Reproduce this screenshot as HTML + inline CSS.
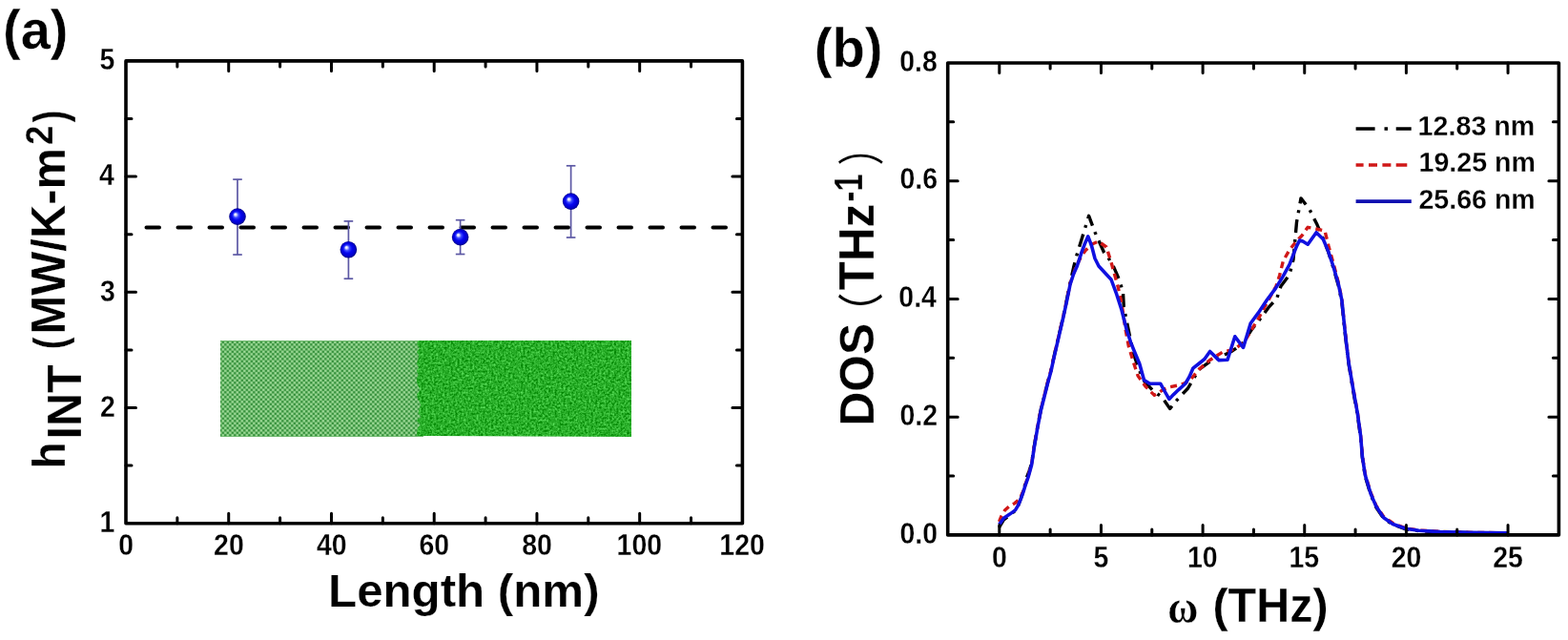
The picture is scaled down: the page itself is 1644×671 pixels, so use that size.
<!DOCTYPE html>
<html><head><meta charset="utf-8"><title>Figure</title>
<style>html,body{margin:0;padding:0;background:#fff;}body{width:1644px;height:671px;overflow:hidden;}svg{display:block;filter:blur(0.45px);}</style>
</head><body>
<svg width="1644" height="671" viewBox="0 0 1644 671">
<defs>
<radialGradient id="ball" cx="0.5" cy="0.5" r="0.5" fx="0.36" fy="0.36">
<stop offset="0" stop-color="#ffffff"/>
<stop offset="0.12" stop-color="#dde0ff"/>
<stop offset="0.32" stop-color="#3a48ff"/>
<stop offset="0.55" stop-color="#0606f0"/>
<stop offset="0.85" stop-color="#0000c8"/>
<stop offset="1" stop-color="#00007a"/>
</radialGradient>
<pattern id="cry" x="0" y="0" width="5" height="5" patternUnits="userSpaceOnUse">
<rect width="5" height="5" fill="#6cb86a"/>
<rect x="0.3" y="0.3" width="2" height="2" fill="#2f8a37"/>
<rect x="2.8" y="2.8" width="2" height="2" fill="#2f8a37"/>
<rect x="2.8" y="0.3" width="2" height="2" fill="#a4de9e"/>
<rect x="0.3" y="2.8" width="2" height="2" fill="#a4de9e"/>
</pattern>
<filter id="amo" x="0" y="0" width="1" height="1" color-interpolation-filters="sRGB">
<feTurbulence type="fractalNoise" baseFrequency="0.45" numOctaves="2" seed="4" result="n"/>
<feColorMatrix in="n" type="matrix" values="0.6 0 0 0 -0.14  0.6 0 0 0 0.38  0.6 0 0 0 -0.14  0 0 0 0 1"/>
<feComposite in2="SourceGraphic" operator="in"/>
</filter>
<filter id="cryn" x="0" y="0" width="1" height="1" color-interpolation-filters="sRGB">
<feTurbulence type="fractalNoise" baseFrequency="0.5" numOctaves="1" seed="9" result="n"/>
<feColorMatrix in="n" type="matrix" values="0 0 0 0 0.4  0 0 0 0 0.72  0 0 0 0 0.4  0.6 0 0 0 -0.15"/>
<feComposite in2="SourceGraphic" operator="in" result="m"/>
<feMerge><feMergeNode in="SourceGraphic"/><feMergeNode in="m"/></feMerge>
</filter>
</defs>
<rect width="1644" height="671" fill="#fff"/>
<rect x="231" y="357" width="213" height="101" fill="url(#cry)" filter="url(#cryn)"/>
<polygon points="662,357 438.1,357 437.3,361 439.8,365 436.9,369 439.2,373 438.3,377 436.8,381 439.0,385 436.7,389 438.7,393 436.8,397 437.0,401 438.6,405 440.6,409 437.1,413 437.6,417 439.6,421 441.2,425 439.4,429 438.5,433 441.4,437 436.7,441 440.8,445 437.9,449 437.2,453 437.1,457 662,458" fill="#2aa52a" filter="url(#amo)"/>
<line x1="153.5" y1="238.6" x2="766" y2="238.6" stroke="#000" stroke-width="4" stroke-dasharray="13.5 19.5" stroke-linecap="round"/>
<g stroke="#5c58a4" stroke-width="1.7" fill="none"><line x1="249.0" y1="188.1" x2="249.0" y2="267.0"/><line x1="244.2" y1="188.1" x2="253.8" y2="188.1"/><line x1="244.2" y1="267.0" x2="253.8" y2="267.0"/></g>
<circle cx="249.0" cy="227.1" r="8.8" fill="url(#ball)"/>
<g stroke="#5c58a4" stroke-width="1.7" fill="none"><line x1="365.4" y1="231.9" x2="365.4" y2="292.2"/><line x1="360.59999999999997" y1="231.9" x2="370.2" y2="231.9"/><line x1="360.59999999999997" y1="292.2" x2="370.2" y2="292.2"/></g>
<circle cx="365.4" cy="261.7" r="8.8" fill="url(#ball)"/>
<g stroke="#5c58a4" stroke-width="1.7" fill="none"><line x1="482.6" y1="230.7" x2="482.6" y2="266.5"/><line x1="477.8" y1="230.7" x2="487.40000000000003" y2="230.7"/><line x1="477.8" y1="266.5" x2="487.40000000000003" y2="266.5"/></g>
<circle cx="482.6" cy="248.6" r="8.8" fill="url(#ball)"/>
<g stroke="#5c58a4" stroke-width="1.7" fill="none"><line x1="598.6" y1="173.8" x2="598.6" y2="249.0"/><line x1="593.8000000000001" y1="173.8" x2="603.4" y2="173.8"/><line x1="593.8000000000001" y1="249.0" x2="603.4" y2="249.0"/></g>
<circle cx="598.6" cy="211.1" r="8.8" fill="url(#ball)"/>
<rect x="132.0" y="63.9" width="646.4" height="484.80000000000007" fill="none" stroke="#000" stroke-width="3.6" stroke-linejoin="round"/>
<path d="M185.87,548.7v-6.0M185.87,63.9v6.0M239.73,548.7v-10.5M239.73,63.9v10.5M293.60,548.7v-6.0M293.60,63.9v6.0M347.47,548.7v-10.5M347.47,63.9v10.5M401.33,548.7v-6.0M401.33,63.9v6.0M455.20,548.7v-10.5M455.20,63.9v10.5M509.07,548.7v-6.0M509.07,63.9v6.0M562.93,548.7v-10.5M562.93,63.9v10.5M616.80,548.7v-6.0M616.80,63.9v6.0M670.67,548.7v-10.5M670.67,63.9v10.5M724.53,548.7v-6.0M724.53,63.9v6.0M132.0,488.10h6.0M778.4,488.10h-6.0M132.0,427.50h10.5M778.4,427.50h-10.5M132.0,366.90h6.0M778.4,366.90h-6.0M132.0,306.30h10.5M778.4,306.30h-10.5M132.0,245.70h6.0M778.4,245.70h-6.0M132.0,185.10h10.5M778.4,185.10h-10.5M132.0,124.50h6.0M778.4,124.50h-6.0" stroke="#000" stroke-width="3.0" fill="none" stroke-linecap="round"/>
<path d="M1047.6,553.0 L1052.4,545.0 L1058.7,540.0 L1064.5,535.5 L1067.6,530.0 L1070.2,523.0 L1073.3,514.0 L1076.5,500.4 L1079.0,494.0 L1081.6,486.0 L1084.3,468.0 L1087.9,447.0 L1091.4,429.0 L1095.0,415.0 L1098.6,400.5 L1102.0,388.0 L1105.1,373.6 L1110.5,350.4 L1115.0,330.8 L1118.5,314.0 L1122.1,296.0 L1125.7,280.0 L1129.0,267.4 L1141.6,226.3 L1148.1,243.6 L1157.7,265.0 L1161.9,270.0 L1167.9,280.4 L1173.8,293.8 L1177.5,307.2 L1178.3,322.0 L1183.0,345.0 L1188.2,370.0 L1194.0,387.0 L1200.0,400.0 L1209.5,410.3 L1218.0,416.0 L1226.7,428.4 L1234.1,419.3 L1245.6,407.0 L1257.0,387.4 L1268.5,379.2 L1280.0,374.0 L1292.0,368.0 L1303.0,360.0 L1312.0,346.0 L1320.0,336.0 L1329.8,322.7 L1338.7,313.0 L1343.0,300.0 L1352.0,288.0 L1356.0,272.0 L1359.5,233.0 L1364.0,207.9 L1373.0,219.5 L1381.0,235.6 L1388.0,252.0 L1393.0,265.0 L1398.0,281.0 L1403.2,299.0 L1406.8,316.0 L1410.2,349.0 L1413.8,380.0 L1418.6,409.0 L1423.3,435.0 L1426.6,459.0 L1428.4,480.0 L1431.3,499.5 L1437.1,518.5 L1442.9,532.0 L1450.7,543.5 L1460.4,550.0 L1474.0,554.8 L1487.5,556.6 L1510.0,557.8 L1540.0,558.5 L1581.0,559.0" fill="none" stroke="#000" stroke-width="3.4" stroke-dasharray="14 7 3 7" stroke-linejoin="round"/>
<path d="M1047.6,547.0 L1050.0,541.0 L1053.5,535.0 L1058.0,531.0 L1063.9,527.6 L1068.0,524.0 L1070.2,521.0 L1072.8,515.0 L1075.4,507.0 L1078.0,499.5 L1081.6,486.5 L1084.3,468.3 L1087.9,447.0 L1091.4,429.0 L1095.0,414.7 L1098.6,400.4 L1102.0,388.0 L1105.1,373.6 L1110.5,350.4 L1115.0,330.8 L1118.5,314.7 L1122.1,297.0 L1128.0,280.0 L1134.0,268.0 L1138.6,262.0 L1145.0,256.0 L1151.7,253.1 L1160.0,259.0 L1164.9,274.5 L1168.6,287.9 L1172.0,300.0 L1176.0,318.0 L1180.0,345.0 L1183.3,362.8 L1188.2,379.2 L1193.1,394.0 L1201.3,405.4 L1210.3,414.4 L1219.3,408.7 L1226.7,405.7 L1235.0,404.0 L1242.0,402.0 L1248.9,397.2 L1257.0,387.4 L1268.5,377.5 L1281.6,369.3 L1294.8,366.0 L1305.0,358.0 L1312.0,346.0 L1320.0,333.0 L1328.0,318.0 L1338.0,300.0 L1341.7,288.4 L1345.4,273.5 L1352.0,262.0 L1360.0,252.0 L1365.0,247.0 L1371.2,238.3 L1380.0,240.0 L1389.0,241.9 L1393.0,258.0 L1398.0,276.0 L1403.2,296.0 L1406.8,313.0 L1410.2,346.6 L1413.8,377.6 L1418.6,406.1 L1423.3,432.3 L1426.6,456.1 L1428.4,477.8 L1431.3,497.1 L1437.1,516.5 L1442.9,530.1 L1450.7,541.7 L1460.4,548.5 L1474.0,553.8 L1487.5,556.0 L1510.0,557.4 L1540.0,558.3 L1581.0,558.8" fill="none" stroke="#d01818" stroke-width="3.4" stroke-dasharray="7 5" stroke-linejoin="round"/>
<path d="M1047.6,550.0 L1052.4,543.3 L1058.7,539.1 L1064.5,534.9 L1067.6,529.7 L1070.2,523.4 L1072.8,516.1 L1075.4,507.8 L1078.0,500.4 L1081.6,487.5 L1084.3,469.3 L1087.9,448.0 L1091.4,430.0 L1095.0,415.7 L1098.6,401.4 L1102.0,389.0 L1105.1,374.6 L1110.5,351.4 L1115.0,331.8 L1118.5,315.7 L1122.1,298.0 L1125.7,287.0 L1129.3,279.0 L1133.8,265.1 L1137.4,255.5 L1140.8,247.8 L1144.6,258.0 L1148.0,271.0 L1152.0,279.0 L1158.0,285.5 L1165.0,293.0 L1170.8,308.7 L1176.0,325.0 L1181.3,346.0 L1185.7,359.3 L1190.0,370.0 L1194.8,381.5 L1199.5,398.5 L1205.5,402.3 L1216.8,402.3 L1221.0,410.0 L1225.8,418.4 L1230.5,413.6 L1235.5,408.8 L1243.0,402.0 L1247.2,394.6 L1250.8,386.2 L1256.7,381.5 L1262.7,376.7 L1268.6,368.5 L1278.0,377.6 L1287.0,377.3 L1294.8,352.8 L1303.5,364.4 L1311.2,339.0 L1319.4,327.9 L1328.3,314.5 L1337.2,302.6 L1344.7,290.6 L1352.1,277.2 L1356.6,265.3 L1359.6,257.9 L1362.6,252.0 L1366.0,253.0 L1371.2,256.2 L1380.1,243.7 L1387.3,250.8 L1392.6,263.4 L1398.0,279.5 L1403.2,297.4 L1406.8,314.3 L1410.2,347.6 L1413.8,378.6 L1418.6,407.1 L1423.3,433.3 L1426.6,457.1 L1428.4,478.8 L1431.3,498.1 L1437.1,517.5 L1442.9,531.1 L1450.7,542.7 L1460.4,549.5 L1474.0,554.3 L1487.5,556.3 L1510.0,557.6 L1540.0,558.4 L1581.0,558.9" fill="none" stroke="#1010e0" stroke-width="3.6" stroke-linejoin="round"/>
<rect x="993.7" y="66.0" width="640.7" height="494.9" fill="none" stroke="#000" stroke-width="3.6" stroke-linejoin="round"/>
<path d="M1047.80,560.9v-10.5M1047.80,66.0v10.5M1101.12,560.9v-6.0M1101.12,66.0v6.0M1154.45,560.9v-10.5M1154.45,66.0v10.5M1207.77,560.9v-6.0M1207.77,66.0v6.0M1261.10,560.9v-10.5M1261.10,66.0v10.5M1314.42,560.9v-6.0M1314.42,66.0v6.0M1367.75,560.9v-10.5M1367.75,66.0v10.5M1421.07,560.9v-6.0M1421.07,66.0v6.0M1474.40,560.9v-10.5M1474.40,66.0v10.5M1527.72,560.9v-6.0M1527.72,66.0v6.0M1581.05,560.9v-10.5M1581.05,66.0v10.5M993.7,499.04h6.0M1634.4,499.04h-6.0M993.7,437.17h10.5M1634.4,437.17h-10.5M993.7,375.31h6.0M1634.4,375.31h-6.0M993.7,313.45h10.5M1634.4,313.45h-10.5M993.7,251.59h6.0M1634.4,251.59h-6.0M993.7,189.72h10.5M1634.4,189.72h-10.5M993.7,127.86h6.0M1634.4,127.86h-6.0" stroke="#000" stroke-width="3.0" fill="none" stroke-linecap="round"/>
<path d="M1421.6,135h20M1451.5,135h3.5M1463.7,135h16" stroke="#000" stroke-width="3.4"/>
<path d="M1421.6,173h8M1435,173h9M1449.4,173h9M1463.7,173h11.6" stroke="#d01818" stroke-width="3.4"/>
<path d="M1421.6,211.1h58.2" stroke="#1010b0" stroke-width="3.8"/>
<g fill="#000">
<text transform="translate(124.17,581.79) scale(0.9317,1)" font-family="'Liberation Sans', Arial, sans-serif" font-weight="bold" font-size="30.55" stroke="#fff" stroke-width="0.25">0</text>
<text transform="translate(224.08,581.79) scale(0.9317,1)" font-family="'Liberation Sans', Arial, sans-serif" font-weight="bold" font-size="30.55" stroke="#fff" stroke-width="0.25">20</text>
<text transform="translate(331.96,581.79) scale(0.9317,1)" font-family="'Liberation Sans', Arial, sans-serif" font-weight="bold" font-size="30.55" stroke="#fff" stroke-width="0.25">40</text>
<text transform="translate(439.40,581.79) scale(0.9317,1)" font-family="'Liberation Sans', Arial, sans-serif" font-weight="bold" font-size="30.55" stroke="#fff" stroke-width="0.25">60</text>
<text transform="translate(547.28,581.79) scale(0.9317,1)" font-family="'Liberation Sans', Arial, sans-serif" font-weight="bold" font-size="30.55" stroke="#fff" stroke-width="0.25">80</text>
<text transform="translate(646.62,581.79) scale(0.9317,1)" font-family="'Liberation Sans', Arial, sans-serif" font-weight="bold" font-size="30.55" stroke="#fff" stroke-width="0.25">100</text>
<text transform="translate(754.35,581.79) scale(0.9317,1)" font-family="'Liberation Sans', Arial, sans-serif" font-weight="bold" font-size="30.55" stroke="#fff" stroke-width="0.25">120</text>
<text transform="translate(104.62,557.94) scale(0.9317,1)" font-family="'Liberation Sans', Arial, sans-serif" font-weight="bold" font-size="30.55" stroke="#fff" stroke-width="0.25">1</text>
<text transform="translate(104.90,436.89) scale(0.9317,1)" font-family="'Liberation Sans', Arial, sans-serif" font-weight="bold" font-size="30.55" stroke="#fff" stroke-width="0.25">2</text>
<text transform="translate(104.90,315.54) scale(0.9317,1)" font-family="'Liberation Sans', Arial, sans-serif" font-weight="bold" font-size="30.55" stroke="#fff" stroke-width="0.25">3</text>
<text transform="translate(104.05,194.34) scale(0.9317,1)" font-family="'Liberation Sans', Arial, sans-serif" font-weight="bold" font-size="30.55" stroke="#fff" stroke-width="0.25">4</text>
<text transform="translate(104.62,72.99) scale(0.9317,1)" font-family="'Liberation Sans', Arial, sans-serif" font-weight="bold" font-size="30.55" stroke="#fff" stroke-width="0.25">5</text>
<text transform="translate(1039.97,594.79) scale(0.9317,1)" font-family="'Liberation Sans', Arial, sans-serif" font-weight="bold" font-size="30.55" stroke="#fff" stroke-width="0.25">0</text>
<text transform="translate(1146.48,594.79) scale(0.9317,1)" font-family="'Liberation Sans', Arial, sans-serif" font-weight="bold" font-size="30.55" stroke="#fff" stroke-width="0.25">5</text>
<text transform="translate(1245.02,594.79) scale(0.9317,1)" font-family="'Liberation Sans', Arial, sans-serif" font-weight="bold" font-size="30.55" stroke="#fff" stroke-width="0.25">10</text>
<text transform="translate(1351.53,594.79) scale(0.9317,1)" font-family="'Liberation Sans', Arial, sans-serif" font-weight="bold" font-size="30.55" stroke="#fff" stroke-width="0.25">15</text>
<text transform="translate(1458.75,594.79) scale(0.9317,1)" font-family="'Liberation Sans', Arial, sans-serif" font-weight="bold" font-size="30.55" stroke="#fff" stroke-width="0.25">20</text>
<text transform="translate(1565.25,594.79) scale(0.9317,1)" font-family="'Liberation Sans', Arial, sans-serif" font-weight="bold" font-size="30.55" stroke="#fff" stroke-width="0.25">25</text>
<text transform="translate(943.48,569.64) scale(0.9317,1)" font-family="'Liberation Sans', Arial, sans-serif" font-weight="bold" font-size="30.55" stroke="#fff" stroke-width="0.25">0.0</text>
<text transform="translate(943.48,445.91) scale(0.9317,1)" font-family="'Liberation Sans', Arial, sans-serif" font-weight="bold" font-size="30.55" stroke="#fff" stroke-width="0.25">0.2</text>
<text transform="translate(942.34,322.19) scale(0.9317,1)" font-family="'Liberation Sans', Arial, sans-serif" font-weight="bold" font-size="30.55" stroke="#fff" stroke-width="0.25">0.4</text>
<text transform="translate(943.48,198.46) scale(0.9317,1)" font-family="'Liberation Sans', Arial, sans-serif" font-weight="bold" font-size="30.55" stroke="#fff" stroke-width="0.25">0.6</text>
<text transform="translate(943.19,74.74) scale(0.9317,1)" font-family="'Liberation Sans', Arial, sans-serif" font-weight="bold" font-size="30.55" stroke="#fff" stroke-width="0.25">0.8</text>
<text transform="translate(1486.58,142.41) scale(0.9892,1)" font-family="'Liberation Sans', Arial, sans-serif" font-weight="bold" font-size="29.01" stroke="#fff" stroke-width="0.25">12.83 nm</text>
<text transform="translate(1487.48,180.11) scale(0.9868,1)" font-family="'Liberation Sans', Arial, sans-serif" font-weight="bold" font-size="29.01" stroke="#fff" stroke-width="0.25">19.25 nm</text>
<text transform="translate(1487.44,218.60) scale(0.9486,1)" font-family="'Liberation Sans', Arial, sans-serif" font-weight="bold" font-size="30.14" stroke="#fff" stroke-width="0.25">25.66 nm</text>
<text transform="translate(3.10,51.39) scale(0.9873,1)" font-family="'Liberation Sans', Arial, sans-serif" font-weight="bold" font-size="56.70" stroke="#fff" stroke-width="0.4">(a)</text>
<text transform="translate(853.79,70.19) scale(0.9909,1)" font-family="'Liberation Sans', Arial, sans-serif" font-weight="bold" font-size="56.70" stroke="#fff" stroke-width="0.4">(b)</text>
<text transform="translate(344.05,636.20) scale(1.0215,1)" font-family="'Liberation Sans', Arial, sans-serif" font-weight="bold" font-size="48.22" stroke="#fff" stroke-width="0.25">Length (nm)</text>
<text transform="translate(1224.15,652.60) scale(0.8843,1)" font-family="'Liberation Serif', 'Times New Roman', serif" font-weight="bold" font-size="49.58" stroke="#fff" stroke-width="0.25">ω</text>
<text transform="translate(1271.48,651.50) scale(0.9772,1)" font-family="'Liberation Sans', Arial, sans-serif" font-weight="bold" font-size="49.59" stroke="#fff" stroke-width="0.25">(THz)</text>
<text transform="rotate(-90) translate(-491.62,68.40) scale(0.9742,1)" font-family="'Liberation Sans', Arial, sans-serif" font-weight="bold" font-size="47.26" stroke="#fff" stroke-width="0.25">h</text>
<text transform="rotate(-90) translate(-460.49,85.00) scale(0.9588,1)" font-family="'Liberation Sans', Arial, sans-serif" font-weight="bold" font-size="50.58" stroke="#fff" stroke-width="0.25">INT</text>
<text transform="rotate(-90) translate(-366.31,68.44) scale(0.8220,1)" font-family="'Liberation Sans', Arial, sans-serif" font-weight="bold" font-size="46.49" stroke="#fff" stroke-width="0.25">(</text>
<text transform="rotate(-90) translate(-350.62,68.10) scale(0.9927,1)" font-family="'Liberation Sans', Arial, sans-serif" font-weight="bold" font-size="49.28" stroke="#fff" stroke-width="0.25">MW/K-m</text>
<text transform="rotate(-90) translate(-151.79,55.30) scale(0.8922,1)" font-family="'Liberation Sans', Arial, sans-serif" font-weight="bold" font-size="40.71" stroke="#fff" stroke-width="0.25">2</text>
<text transform="rotate(-90) translate(-128.30,68.54) scale(0.7979,1)" font-family="'Liberation Sans', Arial, sans-serif" font-weight="bold" font-size="47.45" stroke="#fff" stroke-width="0.25">)</text>
<text transform="rotate(-90) translate(-446.58,915.90) scale(1.0017,1)" font-family="'Liberation Sans', Arial, sans-serif" font-weight="bold" font-size="49.58" stroke="#fff" stroke-width="0.25">DOS</text>
<text transform="rotate(-90) translate(-350.50,920.97) scale(0.9107,1)" font-family="'Liberation Sans', 'Noto Sans CJK SC', sans-serif" font-weight="normal" font-size="48.32">（</text>
<text transform="rotate(-90) translate(-304.19,915.50) scale(0.9681,1)" font-family="'Liberation Sans', Arial, sans-serif" font-weight="bold" font-size="51.01" stroke="#fff" stroke-width="0.25">THz</text>
<text transform="rotate(-90) translate(-211.51,903.90) scale(0.7725,1)" font-family="'Liberation Sans', Arial, sans-serif" font-weight="bold" font-size="42.46" stroke="#fff" stroke-width="0.25">-1</text>
<text transform="rotate(-90) translate(-173.52,921.19) scale(0.7828,1)" font-family="'Liberation Sans', 'Noto Sans CJK SC', sans-serif" font-weight="normal" font-size="49.05">）</text>
</g>
</svg>
</body></html>
